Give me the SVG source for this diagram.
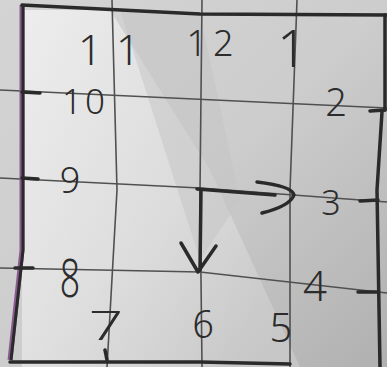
<svg xmlns="http://www.w3.org/2000/svg" width="387" height="367" viewBox="0 0 387 367">
<defs>
<linearGradient id="bg" x1="0" y1="0" x2="1" y2="1">
<stop offset="0" stop-color="#d4d4d4"/>
<stop offset="0.5" stop-color="#cdcdcd"/>
<stop offset="1" stop-color="#b0b0b0"/>
</linearGradient>
<linearGradient id="hl" x1="0" y1="0" x2="1" y2="0.6">
<stop offset="0" stop-color="#f0f0f0" stop-opacity="0.9"/>
<stop offset="1" stop-color="#e6e6e6" stop-opacity="0.3"/>
</linearGradient>
<style>
.grid{fill:none;stroke:#505050;stroke-width:1.6}
.pen{fill:none;stroke:#2a2a2a;stroke-width:3.5;stroke-linecap:round;stroke-linejoin:round}
.num{font-family:"Noto Sans","DejaVu Sans",sans-serif;font-weight:300;fill:#2c2c2c;text-anchor:middle}
</style>
</defs>
<rect width="387" height="367" fill="url(#bg)"/>
<polygon points="22,10 110,10 210,170 300,367 22,367" fill="url(#hl)"/>
<polygon points="120,10 200,14 240,200 200,260" fill="#c4c4c4" opacity="0.5"/>
<g id="grid">
<path class="grid" d="M0,90 L387,108"/>
<path class="grid" d="M0,178 L200,188 L387,202"/>
<path class="grid" d="M0,268 L200,272 L387,293"/>
<path class="grid" d="M112,0 L117,190 L107,367"/>
<path class="grid" d="M202,0 L200,190 L202,367"/>
<path class="grid" d="M297,0 L290,190 L290,367"/>
</g>
<g id="border">
<path d="M22,5 L22,250 L10,360" fill="none" stroke="#8a5a90" stroke-width="5"/>
<path d="M23,5 L23,250 L11,360" fill="none" stroke="#2a2a2a" stroke-width="3"/>
<path class="pen" d="M22,5 L200,14 L387,15"/>
<path class="pen" d="M385,15 L385,110"/>
<path class="pen" d="M382,112 L377,190 L380,367"/>
<path class="pen" d="M10,362 L200,362 L290,364"/>
<path class="pen" d="M22,92 L40,93"/>
<path class="pen" d="M22,178 L38,179"/>
<path class="pen" d="M15,268 L33,268"/>
<path class="pen" d="M370,111 L385,110"/>
<path class="pen" d="M360,201 L378,200"/>
<path class="pen" d="M358,292 L377,292"/>
<path class="pen" d="M105,350 L107,360" stroke-width="2.5"/>
</g>
<g id="numbers">
<text class="num" x="116" y="65" font-size="42" letter-spacing="14">11</text>
<text class="num" x="213" y="56" font-size="36" letter-spacing="6">12</text>
<text class="num" x="292" y="67" font-size="52">1</text>
<text class="num" x="336" y="116" font-size="38">2</text>
<text class="num" x="331" y="215" font-size="34">3</text>
<text class="num" x="315" y="301" font-size="42">4</text>
<text class="num" x="281" y="342" font-size="40">5</text>
<text class="num" x="203" y="338" font-size="38">6</text>
<text class="num" transform="translate(106,340) scale(1.5,1)" font-size="40">7</text>
<text class="num" transform="translate(70,297) scale(0.85,1.25)" font-size="42">8</text>
<text class="num" x="70" y="193" font-size="36">9</text>
<text class="num" x="85" y="114" font-size="35" letter-spacing="3">10</text>
</g>
<g id="hands">
<path class="pen" d="M197,189 L275,195"/>
<path class="pen" d="M257,182 Q292,186 294,195 Q290,206 262,213"/>
<path class="pen" d="M201,190 L200,270"/>
<path class="pen" d="M181,243 L198,272 L216,246"/>
</g>
</svg>
